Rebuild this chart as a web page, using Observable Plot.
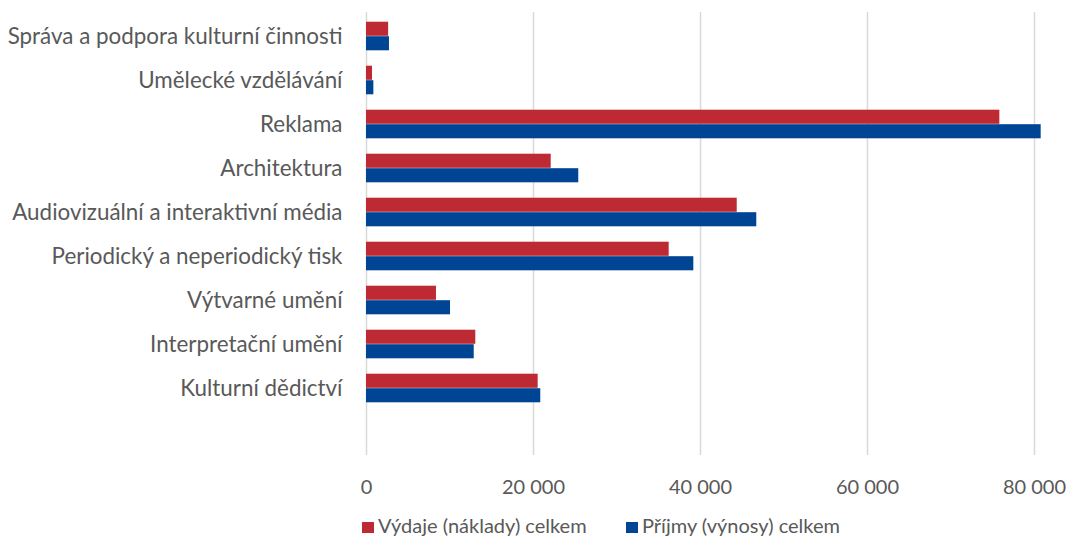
<!DOCTYPE html>
<html>
<head>
<meta charset="utf-8">
<script src="https://cdn.jsdelivr.net/npm/d3@7"></script>
<script src="https://cdn.jsdelivr.net/npm/@observablehq/plot@0.6"></script>
<style>
  body { margin: 0; background: #fff; font-family: Lato, sans-serif; }
  #wrap { position: relative; width: 1068px; height: 537px; overflow: hidden; }
  #legend { position: absolute; top: 514px; left: 0; width: 1068px; height: 23px; font-size: 20px; line-height: 23px; color: #595959; }
  .item { position: absolute; top: 0; display: flex; align-items: center; white-space: nowrap; }
  .sw { width: 12px; height: 11px; margin-right: 4px; margin-top: 3px; }
</style>
</head>
<body>
<div id="wrap">
  <div id="chart"></div>
  <div id="legend"></div>
</div>
<script>
const categories = [
  "Správa a podpora kulturní činnosti",
  "Umělecké vzdělávání",
  "Reklama",
  "Architektura",
  "Audiovizuální a interaktivní média",
  "Periodický a neperiodický tisk",
  "Výtvarné umění",
  "Interpretační umění",
  "Kulturní dědictví"
];
const vydaje = [2650, 720, 75850, 22120, 44400, 36250, 8380, 13090, 20560];
const prijmy = [2750, 880, 80800, 25420, 46740, 39200, 10060, 12900, 20870];
const seriesNames = ["Výdaje (náklady) celkem", "Příjmy (výnosy) celkem"];
const seriesColors = ["#BE2A34", "#004494"];
const xTicks = [0, 20000, 40000, 60000, 80000];

const rows = [];
categories.forEach((c, i) => {
  rows.push({cat: c, series: seriesNames[0], value: vydaje[i]});
  rows.push({cat: c, series: seriesNames[1], value: prijmy[i]});
});

const fmt = d => d3.format(",")(d).replace(/,/g, " ");
const textColor = "#595959";

const chart = Plot.plot({
  width: 1068,
  height: 512,
  marginLeft: 366,
  marginRight: 34,
  marginTop: 12,
  marginBottom: 57,
  style: {fontFamily: "Lato, sans-serif", background: "#fff"},
  x: {domain: [0, 80000]},
  y: {domain: categories, padding: 0, insetBottom: 44},
  marks: [
    Plot.gridX(xTicks, {stroke: "#d9d9d9", strokeOpacity: 1, strokeWidth: 1.5}),
    Plot.barX(rows.filter(d => d.series === seriesNames[0]), {
      y: "cat", x: "value", fill: seriesColors[0], insetTop: 7.7, insetBottom: 22.2
    }),
    Plot.barX(rows.filter(d => d.series === seriesNames[1]), {
      y: "cat", x: "value", fill: seriesColors[1], insetTop: 22.2, insetBottom: 7.7
    }),
    Plot.axisX(xTicks, {tickSize: 0, tickPadding: 24, tickFormat: fmt, fontSize: 20, fill: textColor, label: null}),
    Plot.axisY({tickSize: 0, tickPadding: 24, fontSize: 22.4, fill: textColor, label: null})
  ]
});
document.getElementById("chart").appendChild(chart);

const legend = document.getElementById("legend");
const legendLeft = [362, 626];
seriesNames.forEach((name, i) => {
  const it = document.createElement("div");
  it.className = "item";
  it.style.left = legendLeft[i] + "px";
  const sw = document.createElement("span");
  sw.className = "sw";
  sw.style.background = seriesColors[i];
  const tx = document.createElement("span");
  tx.textContent = name;
  it.appendChild(sw);
  it.appendChild(tx);
  legend.appendChild(it);
});
</script>
</body>
</html>
